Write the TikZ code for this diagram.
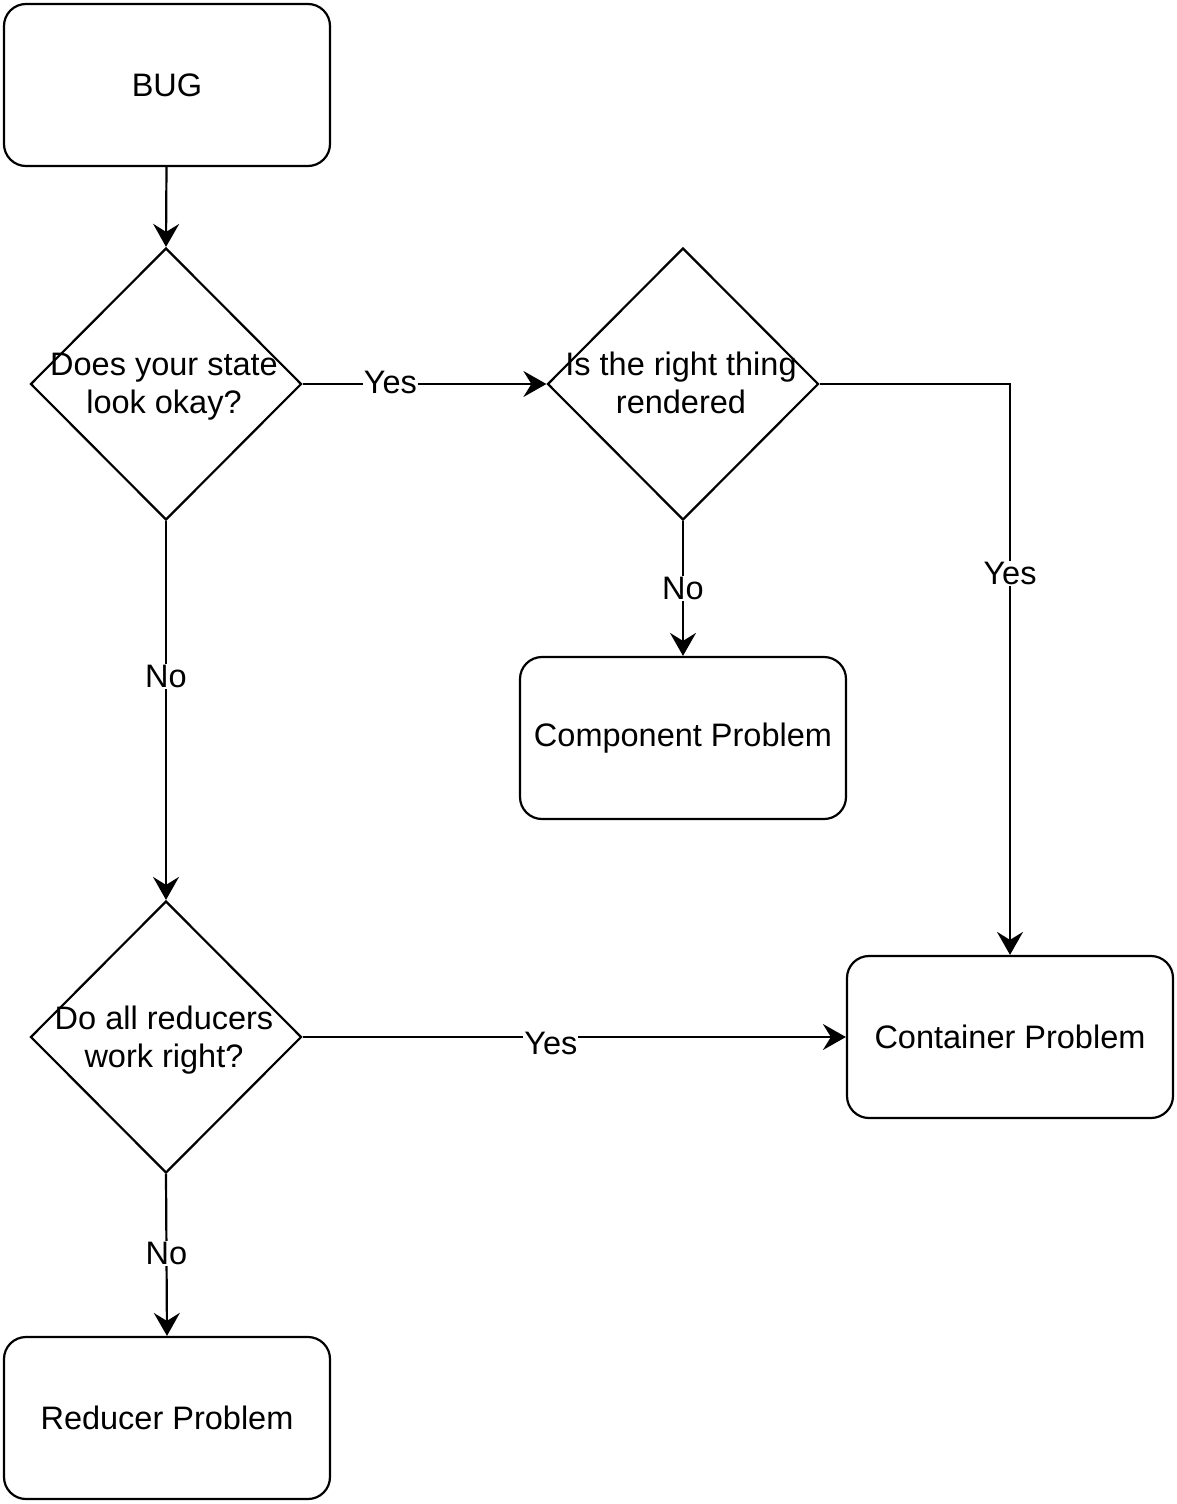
\documentclass[tikz,border=0pt]{standalone}
\usepackage{fontspec}
\setmainfont{Liberation Sans}
\usetikzlibrary{shapes.geometric,arrows.meta}
\begin{document}
\begin{tikzpicture}[x=1pt,y=-1pt,
  every node/.style={font=\fontsize{32.5}{38}\selectfont},
  box/.style={draw,line width=2.2pt,rounded corners=22pt,minimum width=326pt,minimum height=162pt,inner sep=0pt},
  dia/.style={draw,line width=2.2pt,diamond,aspect=1,minimum width=271pt,minimum height=272pt,inner sep=0pt},
  txt/.style={align=center,inner sep=0pt},
  lbl/.style={fill=white,inner sep=1pt},
  conn/.style={line width=2.2pt,-{Stealth[length=23pt,width=26pt,inset=8pt]}}]
\useasboundingbox (0,0) rectangle (1177,1504);
\node[box] (bug) at (167,85) {BUG};
\node[dia] (d1) at (166,384) {};
\node[txt] (t1) at (164,387) {Does your state\\look okay?};
\node[dia] (d2) at (683,384) {};
\node[txt] (t2) at (681,383) {Is the right thing\\rendered};
\node[box] (comp) at (683,738) {Component Problem};
\node[dia] (d3) at (166,1037) {};
\node[txt] (t3) at (164,1040) {Do all reducers\\work right?};
\node[box] (cont) at (1010,1037) {Container Problem};
\node[box] (red) at (167,1418) {Reducer Problem};
\draw[conn] (bug) -- (d1.north);
\draw[conn] (d1.east) -- node[lbl,pos=0.36,yshift=2pt] {Yes} (d2.west);
\draw[conn] (d2.east) -| node[lbl,pos=0.666] {Yes} (cont.north);
\draw[conn] (d2.south) -- node[lbl,pos=0.5] {No} (comp.north);
\draw[conn] (d1.south) -- node[lbl,pos=0.41] {No} (d3.north);
\draw[conn] (d3.east) -- node[lbl,pos=0.457,yshift=-6pt] {Yes} (cont.west);
\draw[conn] (d3.south) -- node[lbl,pos=0.49] {No} (red.north);
\end{tikzpicture}
\end{document}
